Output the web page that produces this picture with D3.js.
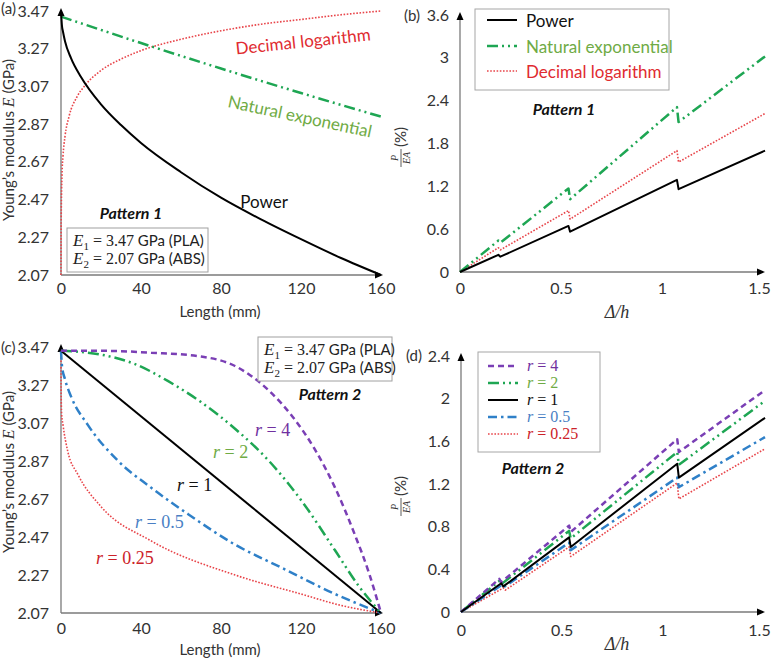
<!DOCTYPE html>
<html><head><meta charset="utf-8">
<script src="https://cdn.jsdelivr.net/npm/d3@7"></script>
<style>
body{margin:0;background:#fff}
svg{display:block}
</style>
</head><body>
<svg id="c" width="771" height="661" font-family="Lato, 'Open Sans', sans-serif"></svg>
<script>
// ---------- DATA ----------
const lengthTicks = [0, 40, 80, 120, 160];
const modulusTicks = [2.07, 2.27, 2.47, 2.67, 2.87, 3.07, 3.27, 3.47];
const loadTicksB = [0, 0.6, 1.2, 1.8, 2.4, 3, 3.6];
const loadTicksD = [0, 0.4, 0.8, 1.2, 1.6, 2, 2.4];
const dispTicks = [0, 0.5, 1, 1.5];

// Pattern 1 – modulus along length (mm, GPa)
const p1Power = [[0,3.47],[0.5,3.39],[1,3.36],[2,3.31],[5,3.22],[10,3.12],[20,2.975],[30,2.865],[40,2.77],[60,2.615],[80,2.48],[100,2.365],[120,2.26],[140,2.16],[160,2.07]];
const p1NatExp = [[0,3.44],[40,3.30],[80,3.165],[120,3.035],[160,2.91]];
const p1DecLog = [[0,2.07],[0.1,2.37],[0.5,2.60],[1,2.70],[2,2.805],[4,2.91],[8,3.015],[12,3.075],[20,3.155],[30,3.215],[40,3.26],[60,3.32],[80,3.365],[100,3.40],[120,3.425],[140,3.45],[160,3.47]];

// Pattern 1 – load vs displacement
const p1PowerLoad = [[0,0],[0.19,0.24],[0.2,0.215],[0.537,0.645],[0.545,0.565],[1.074,1.29],[1.082,1.16],[1.51,1.70]];
const p1NatExpLoad = [[0,0],[0.19,0.44],[0.2,0.41],[0.537,1.17],[0.545,1.02],[1.074,2.31],[1.082,2.10],[1.51,3.02]];
const p1DecLogLoad = [[0,0],[0.19,0.34],[0.2,0.31],[0.537,0.86],[0.545,0.74],[1.074,1.70],[1.082,1.54],[1.51,2.22]];

// Pattern 2 – modulus along length
const p2r4 = [[0,3.45],[20,3.45],[45,3.44],[70,3.42],[87,3.37],[104,3.24],[116,3.10],[127,2.93],[137,2.73],[147,2.48],[154,2.28],[160,2.07]];
const p2r2 = [[0,3.45],[20,3.43],[37,3.38],[53.6,3.29],[70,3.18],[87,3.04],[104,2.87],[121,2.65],[137,2.40],[149,2.21],[160,2.07]];
const p2r1 = [[0,3.45],[160,2.07]];
const p2r05 = [[0,3.45],[0.5,3.37],[2,3.30],[5,3.21],[13.4,3.06],[28.6,2.87],[45,2.73],[63.6,2.59],[87,2.43],[110,2.31],[137,2.17],[160,2.07]];
const p2r025 = [[0,3.45],[0.05,3.26],[0.3,3.12],[1,3.06],[3.4,2.92],[8.4,2.80],[20,2.63],[45,2.45],[87,2.27],[120,2.17],[140,2.11],[160,2.07]];

// Pattern 2 – load vs displacement
const p2r4Load = [[0,0],[0.19,0.31],[0.2,0.28],[0.537,0.81],[0.545,0.75],[1.074,1.62],[1.082,1.50],[1.51,2.08]];
const p2r2Load = [[0,0],[0.19,0.29],[0.2,0.26],[0.537,0.76],[0.545,0.69],[1.074,1.50],[1.082,1.38],[1.51,1.98]];
const p2r1Load = [[0,0],[0.2,0.27],[0.21,0.24],[0.537,0.70],[0.545,0.61],[1.074,1.39],[1.082,1.26],[1.51,1.82]];
const p2r05Load = [[0,0],[0.2,0.25],[0.21,0.23],[0.537,0.65],[0.545,0.58],[1.074,1.26],[1.082,1.17],[1.51,1.64]];
const p2r025Load = [[0,0],[0.21,0.225],[0.22,0.205],[0.537,0.61],[0.545,0.52],[1.074,1.21],[1.082,1.06],[1.51,1.53]];

// ---------- STYLES ----------
const SANS = "Lato, 'Open Sans', sans-serif";
const SERIF = "'Liberation Serif','DejaVu Serif',serif";
const st = {
  black:  {color:'#000000', dash:null, w:2},
  natexp: {color:'#1ea653', dash:'11,4,2,4,2,4', w:2.5},
  declog: {color:'#e8454a', dash:'1.6,1.6', w:1.6},
  r4:     {color:'#7a3fb5', dash:'6,4', w:2.5},
  r05:    {color:'#2f80c8', dash:'9,4,2.5,4', w:2.5}
};
const txt = {green:'#6fab45', red:'#e02b30', purple:'#7030a0', blue:'#4a7fc4', darkred:'#cc2229'};

const svg = d3.select('#c');

function drawAxes(x, y, xTicks, yTicks, yFmt, xFmt, xPadY, xPadX) {
  const g = svg.append('g');
  const x0 = x.range()[0], x1 = x.range()[1];
  const y0 = y.range()[0], y1 = y.range()[1];
  g.append('g').attr('transform', `translate(${x0},0)`)
    .call(d3.axisLeft(y).tickValues(yTicks).tickSize(0).tickPadding(xPadX).tickFormat(yFmt))
    .call(s => s.select('.domain').remove())
    .selectAll('text').attr('font-size', 16).attr('fill', '#333').attr('font-family', SANS);
  g.append('g').attr('transform', `translate(0,${y0})`)
    .call(d3.axisBottom(x).tickValues(xTicks).tickSize(0).tickPadding(xPadY).tickFormat(xFmt))
    .call(s => s.select('.domain').remove())
    .selectAll('text').attr('font-size', 16).attr('fill', '#333').attr('font-family', SANS)
    .attr('dx', (d, i, n) => (x(d) + 12 > 771 ? 771 - 12 - x(d) : 0));
  g.append('line').attr('x1', x0).attr('x2', x0).attr('y1', y0).attr('y2', y1 - 1).attr('stroke', '#7a7a7a').attr('stroke-width', 1.3);
  g.append('line').attr('x1', x0).attr('x2', x1 - 3).attr('y1', y0).attr('y2', y0).attr('stroke', '#7a7a7a').attr('stroke-width', 1.3);
  g.append('path').attr('d', `M${x0-3.5},${y1+5} L${x0},${y1-3} L${x0+3.5},${y1+5} Z`).attr('fill', '#000');
  g.append('path').attr('d', `M${x1-6},${y0-3.5} L${x1+2},${y0} L${x1-6},${y0+3.5} Z`).attr('fill', '#000');
}

function drawLine(data, x, y, s, curve) {
  svg.append('path').datum(data)
    .attr('d', d3.line().x(d => x(d[0])).y(d => y(d[1])).curve(curve || d3.curveLinear))
    .attr('fill', 'none').attr('stroke', s.color).attr('stroke-width', s.w)
    .attr('stroke-dasharray', s.dash).attr('stroke-linejoin', 'round');
}

function modulusLabel(cx, cy) {
  const t = svg.append('text').attr('transform', `translate(${cx},${cy}) rotate(-90)`)
    .attr('text-anchor', 'middle').attr('font-size', 15).attr('fill', '#333');
  t.append('tspan').text('Young\u2019s modulus ');
  t.append('tspan').attr('font-family', SERIF).attr('font-style', 'italic').attr('font-size', 16).text('E');
  t.append('tspan').text(' (GPa)');
}

function loadLabel(px, py) {
  const g = svg.append('g').attr('transform', `translate(${px},${py}) rotate(-90)`);
  g.append('text').attr('x', -10).attr('y', -3).attr('text-anchor', 'middle')
    .attr('font-family', SERIF).attr('font-style', 'italic').attr('font-size', 10).attr('fill', '#333').text('P');
  g.append('line').attr('x1', -19).attr('x2', -1).attr('y1', 0).attr('y2', 0).attr('stroke', '#333').attr('stroke-width', 0.8);
  g.append('text').attr('x', -10).attr('y', 9).attr('text-anchor', 'middle')
    .attr('font-family', SERIF).attr('font-style', 'italic').attr('font-size', 10).attr('fill', '#333').text('EA');
  g.append('text').attr('x', 1).attr('y', 5).attr('font-size', 15).attr('fill', '#333').text('(%)');
}

function dispLabel(cx, cy) {
  svg.append('text').attr('x', cx).attr('y', cy).attr('text-anchor', 'middle')
    .attr('font-family', SERIF).attr('font-style', 'italic').attr('font-size', 18).attr('fill', '#333').text('\u0394/h');
}

function materialBox(x, y, w, h) {
  svg.append('rect').attr('x', x).attr('y', y).attr('width', w).attr('height', h)
    .attr('fill', '#fff').attr('stroke', '#a0a0a0').attr('stroke-width', 1);
  [['1', '3.47', 'PLA'], ['2', '2.07', 'ABS']].forEach((r, i) => {
    const t = svg.append('text').attr('x', x + 6).attr('y', y + 18 + i * 18).attr('font-size', 15).attr('fill', '#222');
    t.append('tspan').attr('font-family', SERIF).attr('font-style', 'italic').attr('font-size', 17).text('E');
    t.append('tspan').attr('font-family', SERIF).attr('font-size', 11).attr('dy', 4).text(r[0]);
    t.append('tspan').attr('font-family', SERIF).attr('font-size', 16).attr('dy', -4).text(' = ' + r[1]);
    t.append('tspan').text(' GPa (' + r[2] + ')');
  });
}

function rText(x, y, label, color, size, anchor) {
  const t = svg.append('text').attr('x', x).attr('y', y).attr('font-family', SERIF)
    .attr('font-size', size || 18).attr('fill', color).attr('text-anchor', anchor || 'start');
  t.append('tspan').attr('font-style', 'italic').text('r');
  t.append('tspan').text(' = ' + label);
}

function patternText(x, y, s) {
  svg.append('text').attr('x', x).attr('y', y).attr('text-anchor', 'middle')
    .attr('font-size', 16).attr('font-weight', 'bold').attr('font-style', 'italic').attr('fill', '#111').text(s);
}

function panelTag(x, y, s) {
  svg.append('text').attr('x', x).attr('y', y).attr('font-size', 15).attr('fill', '#333').text(s);
}

const f2 = d3.format('.2f');
const fG = d => String(d);

// ---------- PANEL (a) ----------
const xA = d3.scaleLinear().domain([0, 160]).range([61, 381]);
const yA = d3.scaleLinear().domain([2.07, 3.47]).range([275, 11]);
drawAxes(xA, yA, lengthTicks, modulusTicks, f2, fG, 8, 12);
drawLine(p1DecLog, xA, yA, st.declog, d3.curveMonotoneX);
drawLine(p1NatExp, xA, yA, st.natexp, d3.curveMonotoneX);
drawLine(p1Power, xA, yA, st.black, d3.curveMonotoneX);
svg.append('text').attr('transform', 'translate(303,41) rotate(-6)').attr('text-anchor', 'middle')
  .attr('dominant-baseline', 'central').attr('font-size', 17).attr('fill', txt.red).text('Decimal logarithm');
svg.append('text').attr('transform', 'translate(300,116) rotate(12)').attr('text-anchor', 'middle')
  .attr('dominant-baseline', 'central').attr('font-size', 17).attr('fill', txt.green).text('Natural exponential');
svg.append('text').attr('x', 264).attr('y', 208).attr('text-anchor', 'middle').attr('font-size', 17).attr('fill', '#111').text('Power');
patternText(131, 219, 'Pattern 1');
materialBox(67, 228, 141, 44);
modulusLabel(14, 140);
svg.append('text').attr('x', 220).attr('y', 317).attr('text-anchor', 'middle').attr('font-size', 15).attr('fill', '#333').text('Length (mm)');
panelTag(1, 14, '(a)');

// ---------- PANEL (b) ----------
const xB = d3.scaleLinear().domain([0, 1.5]).range([460, 763]);
const yB = d3.scaleLinear().domain([0, 3.6]).range([272, 15]);
drawAxes(xB, yB, dispTicks, loadTicksB, fG, fG, 11, 11);
drawLine(p1DecLogLoad, xB, yB, st.declog);
drawLine(p1NatExpLoad, xB, yB, st.natexp);
drawLine(p1PowerLoad, xB, yB, st.black);
svg.append('rect').attr('x', 475).attr('y', 9).attr('width', 194).attr('height', 81)
  .attr('fill', '#fff').attr('stroke', '#a6a6a6');
const legB = [
  {name:'Power', s:st.black, c:'#111', y:20},
  {name:'Natural exponential', s:st.natexp, c:txt.green, y:46},
  {name:'Decimal logarithm', s:st.declog, c:txt.red, y:71}
];
legB.forEach(d => {
  svg.append('line').attr('x1', 487).attr('x2', 517).attr('y1', d.y).attr('y2', d.y)
    .attr('stroke', d.s.color).attr('stroke-width', d.s.w).attr('stroke-dasharray', d.s.dash);
  svg.append('text').attr('x', 526).attr('y', d.y).attr('dominant-baseline', 'central')
    .attr('font-size', 17).attr('fill', d.c).text(d.name);
});
patternText(564, 115, 'Pattern 1');
loadLabel(401, 148);
dispLabel(617, 318);
panelTag(404, 21, '(b)');

// ---------- PANEL (c) ----------
const xC = d3.scaleLinear().domain([0, 160]).range([61, 381]);
const yC = d3.scaleLinear().domain([2.07, 3.47]).range([613, 347]);
drawAxes(xC, yC, lengthTicks, modulusTicks, f2, fG, 10, 12);
drawLine(p2r025, xC, yC, st.declog, d3.curveMonotoneX);
drawLine(p2r05, xC, yC, st.r05, d3.curveMonotoneX);
drawLine(p2r1, xC, yC, st.black);
drawLine(p2r2, xC, yC, st.natexp, d3.curveMonotoneX);
drawLine(p2r4, xC, yC, st.r4, d3.curveMonotoneX);
materialBox(258, 337, 134, 44);
patternText(330, 400, 'Pattern 2');
rText(255, 436, '4', txt.purple);
rText(213, 458, '2', txt.green);
rText(177, 491, '1', '#111');
rText(135, 528, '0.5', txt.blue);
rText(96, 564, '0.25', txt.darkred);
modulusLabel(14, 472);
svg.append('text').attr('x', 220).attr('y', 655).attr('text-anchor', 'middle').attr('font-size', 15).attr('fill', '#333').text('Length (mm)');
panelTag(1, 353, '(c)');

// ---------- PANEL (d) ----------
const xD = d3.scaleLinear().domain([0, 1.5]).range([461, 763]);
const yD = d3.scaleLinear().domain([0, 2.4]).range([612, 356]);
drawAxes(xD, yD, dispTicks, loadTicksD, fG, fG, 13, 11);
drawLine(p2r025Load, xD, yD, st.declog);
drawLine(p2r05Load, xD, yD, st.r05);
drawLine(p2r2Load, xD, yD, st.natexp);
drawLine(p2r4Load, xD, yD, st.r4);
drawLine(p2r1Load, xD, yD, st.black);
svg.append('rect').attr('x', 478).attr('y', 352).attr('width', 122).attr('height', 100)
  .attr('fill', '#fff').attr('stroke', '#a6a6a6');
const legD = [
  {name:'4', s:st.r4, c:txt.purple, y:366},
  {name:'2', s:st.natexp, c:txt.green, y:383},
  {name:'1', s:st.black, c:'#111', y:400},
  {name:'0.5', s:st.r05, c:txt.blue, y:417},
  {name:'0.25', s:st.declog, c:txt.darkred, y:434}
];
legD.forEach(d => {
  svg.append('line').attr('x1', 488).attr('x2', 518).attr('y1', d.y).attr('y2', d.y)
    .attr('stroke', d.s.color).attr('stroke-width', d.s.w).attr('stroke-dasharray', d.s.dash);
  rText(527, d.y + 5, d.name, d.c, 16);
});
patternText(533, 474, 'Pattern 2');
loadLabel(401, 497);
dispLabel(617, 650);
panelTag(406, 361, '(d)');
</script>
</body></html>
